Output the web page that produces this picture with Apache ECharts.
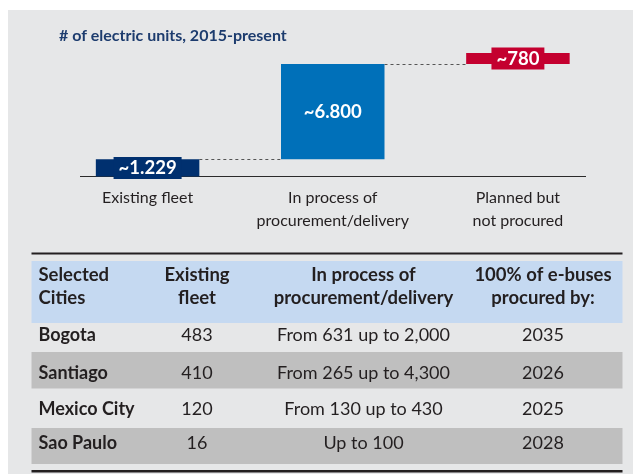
<!DOCTYPE html>
<html>
<head>
<meta charset="utf-8">
<script src="https://cdn.jsdelivr.net/npm/echarts@6/dist/echarts.min.js"></script>
<style>
  html, body { margin: 0; padding: 0; background: #ffffff; }
  #panel { position: absolute; left: 8px; top: 10px; width: 625px; height: 464px; background: #e6e7e8; }
  #chart { position: absolute; left: 0; top: 0; width: 633px; height: 474px; }
</style>
</head>
<body>
<div id="panel"></div>
<div id="chart"></div>
<script>
// Waterfall: electric bus units
const titleText = '# of electric units, 2015-present';
const categories = ['Existing fleet', 'In process of\nprocurement/delivery', 'Planned but\nnot procured'];
const units = [1229, 6800, 780];

// City table
const tableHeader = ['Selected\nCities', 'Existing\nfleet', 'In process of\nprocurement/delivery', '100% of e-buses\nprocured by:'];
const cities = ['Bogota', 'Santiago', 'Mexico City', 'Sao Paulo'];
const existingFleet = ['483', '410', '120', '16'];
const inProcess = ['From 631 up to 2,000', 'From 265 up to 4,300', 'From 130 up to 430', 'Up to 100'];
const procuredBy = ['2035', '2026', '2025', '2028'];

const FONT = 'Lato, "Open Sans", sans-serif';
const INK = '#231f20';
const barColors = ['#00306f', '#0070b9', '#c4002f'];
const taggedBars = [0, 2];   // labels that sit on a tag wider than the bar
const BAR_W = 103.5;

// cumulative offsets for the floating bars
const offsets = units.map((_, i) => units.slice(0, i).reduce((a, b) => a + b, 0));

function tilde(v) {
  return '~' + String(v).replace(/\B(?=(\d{3})+(?!\d))/g, '.');
}

const chart = echarts.init(document.getElementById('chart'), null, { renderer: 'canvas' });

chart.setOption({
  animation: false,
  backgroundColor: 'transparent',
  title: {
    text: titleText,
    left: 54, top: 23,
    textStyle: { fontFamily: FONT, fontSize: 16, fontWeight: 'bold', color: '#1d3c6e' }
  },
  grid: { left: 55, right: 22.5, top: 50.4, bottom: 297.5, containLabel: false },
  xAxis: {
    type: 'category',
    data: categories,
    axisLine: { show: false },
    axisTick: { show: false },
    axisLabel: { interval: 0, fontFamily: FONT, fontSize: 16, color: INK, lineHeight: 23, margin: 10 }
  },
  yAxis: { type: 'value', min: 0, max: 9000, show: false, splitLine: { show: false } },
  series: [
    {
      type: 'bar', stack: 'fall', barWidth: BAR_W, silent: true,
      itemStyle: { color: 'transparent' },
      data: offsets
    },
    {
      type: 'bar', stack: 'fall', barWidth: BAR_W,
      data: units.map((v, i) => ({
        value: v,
        itemStyle: { color: barColors[i] },
        label: taggedBars.includes(i)
          ? { backgroundColor: barColors[i], padding: [2, 5, 1, 5] }
          : {}
      })),
      label: {
        show: true, position: 'inside',
        formatter: p => tilde(p.value),
        fontFamily: FONT, fontSize: 18.5, fontWeight: 'bold', color: '#ffffff'
      }
    }
  ]
});

// connectors, baseline and the city table
const graphics = [];
const y0 = chart.convertToPixel({ yAxisIndex: 0 }, 0);
graphics.push({ type: 'line', shape: { x1: 80, y1: y0, x2: 586, y2: y0 }, style: { stroke: '#2b2b2b', lineWidth: 1 } });
for (let i = 0; i < units.length - 1; i++) {
  const top = offsets[i] + units[i];
  const y = Math.round(chart.convertToPixel({ yAxisIndex: 0 }, top)) + 0.5;
  const xa = chart.convertToPixel({ xAxisIndex: 0 }, i) + BAR_W / 2;
  const xb = chart.convertToPixel({ xAxisIndex: 0 }, i + 1) - BAR_W / 2;
  graphics.push({ type: 'line', shape: { x1: xa, y1: y, x2: xb, y2: y },
    style: { stroke: '#555555', lineWidth: 1, lineDash: [3, 3] } });
}

const T = { left: 31.5, right: 622.5 };
const colX = [38.5, 197, 363.5, 543];
const colAlign = ['left', 'center', 'center', 'center'];
const headerBand = [261, 323];
const rowBands = [[323, 352], [352, 388.5], [388.5, 428], [428, 464]];
const rowTextY = [335, 372.7, 409.3, 443.3];

graphics.push({ type: 'rect', shape: { x: T.left, y: headerBand[0], width: T.right - T.left, height: headerBand[1] - headerBand[0] }, style: { fill: '#c5d9f1' } });
rowBands.forEach((b, r) => {
  if (r % 2 === 1) {
    graphics.push({ type: 'rect', shape: { x: T.left, y: b[0], width: T.right - T.left, height: b[1] - b[0] }, style: { fill: '#bfbfbf' } });
  }
});
graphics.push({ type: 'rect', shape: { x: T.left, y: 252.5, width: T.right - T.left, height: 2 }, style: { fill: INK } });
graphics.push({ type: 'rect', shape: { x: T.left, y: 470, width: T.right - T.left, height: 2.5 }, style: { fill: INK } });

tableHeader.forEach((h, c) => {
  graphics.push({ type: 'text', x: colX[c], y: 286.4,
    style: { text: h, fill: INK, font: 'bold 18.5px ' + FONT, lineHeight: 22.7,
      textAlign: colAlign[c], textVerticalAlign: 'middle', align: colAlign[c], verticalAlign: 'middle' } });
});
const columns = [cities, existingFleet, inProcess, procuredBy];
columns.forEach((col, c) => {
  col.forEach((txt, r) => {
    graphics.push({ type: 'text', x: colX[c], y: rowTextY[r],
      style: { text: txt, fill: INK, font: (c === 0 ? 'bold ' : '') + '18px ' + FONT,
        textAlign: colAlign[c], textVerticalAlign: 'middle', align: colAlign[c], verticalAlign: 'middle' } });
  });
});

chart.setOption({ graphic: { elements: graphics } });
</script>
</body>
</html>
